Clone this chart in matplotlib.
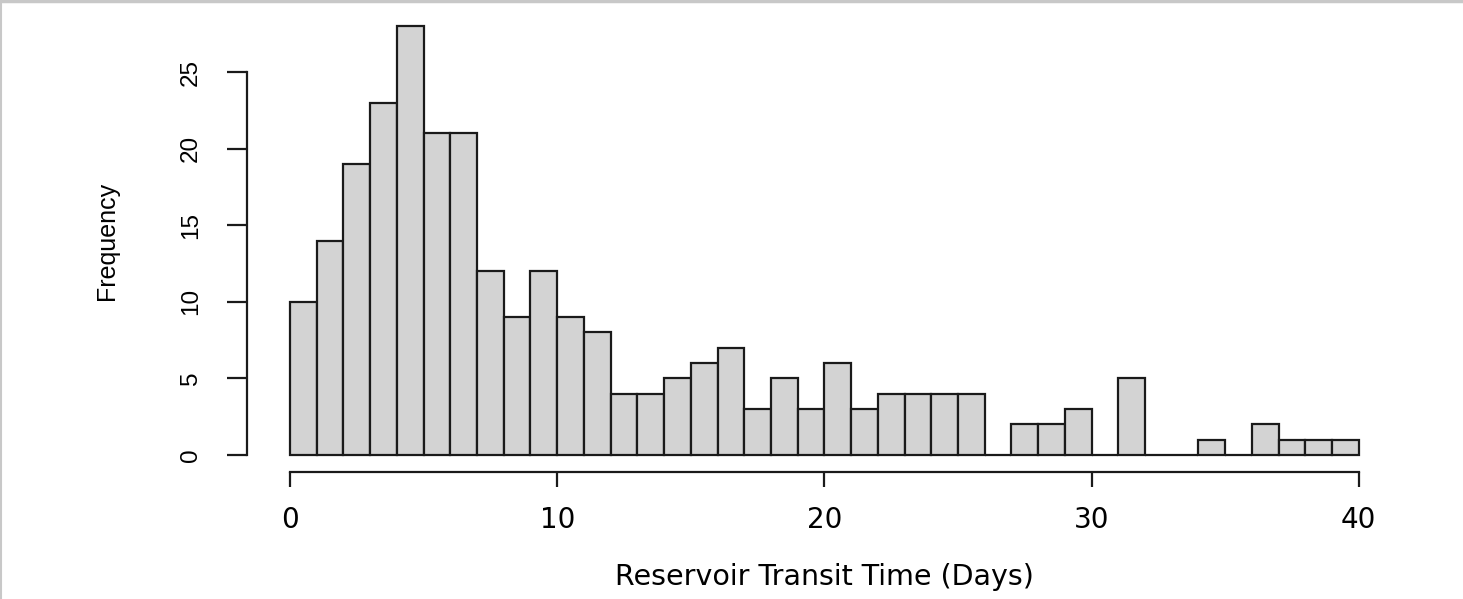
import numpy as np
import matplotlib
matplotlib.use("Agg")
import matplotlib.pyplot as plt
from matplotlib.lines import Line2D

# histogram counts, bins of width 1 day from 0 to 40
bin_edges = np.arange(0, 41, 1)
counts = [10, 14, 19, 23, 28, 21, 21, 12, 9, 12,
          9, 8, 4, 4, 5, 6, 7, 3, 5, 3,
          6, 3, 4, 4, 4, 4, 0, 2, 2, 3,
          0, 5, 0, 0, 1, 0, 2, 1, 1, 1]
x_ticks = [0, 10, 20, 30, 40]
y_ticks = [0, 5, 10, 15, 20, 25]

plt.rcParams['font.family'] = ['Liberation Sans', 'DejaVu Sans']
wide = ['DejaVu Sans']  # reference text is stretched sideways, use a wider face

fig = plt.figure(figsize=(14.63, 5.99), dpi=100)
ax = fig.add_axes([0.169, 0.2117, 0.958 - 0.169, 0.985 - 0.2117])

ax.bar(bin_edges[:-1], counts, width=1, align='edge', color='#d3d3d3',
       edgecolor='#1a1a1a', linewidth=1.6)

ax.set_xlim(-1.6, 41.6)
ax.set_ylim(-1.12, 29.12)

for s in ['top', 'right']:
    ax.spines[s].set_visible(False)
ax.spines['left'].set_bounds(0, 25)
ax.spines['bottom'].set_bounds(0, 40)
for s in ['left', 'bottom']:
    ax.spines[s].set_linewidth(1.6)
    ax.spines[s].set_color('#1a1a1a')

ax.set_xticks(x_ticks)
ax.set_yticks(y_ticks)
ax.tick_params(axis='x', length=11, width=1.6, pad=13, labelsize=20, color='#1a1a1a')
ax.tick_params(axis='y', length=14.5, width=1.6, pad=18, labelsize=17.5,
               labelrotation=90, color='#1a1a1a')
for lab in ax.get_xticklabels():
    lab.set_family(wide)
for lab in ax.get_yticklabels():
    lab.set_va('center')

ax.set_xlabel('Reservoir Transit Time (Days)', family=wide, fontsize=20.5, va='center')
ax.xaxis.set_label_coords(0.5, -0.226)
ax.set_ylabel('Frequency', fontsize=18, va='center')
ax.yaxis.set_label_coords(-0.1214, 0.5)

# light grey frame of the screenshot
fig.add_artist(Line2D([0, 1], [0.998, 0.998], transform=fig.transFigure,
                      color='#c8c8c8', linewidth=2.5))
fig.add_artist(Line2D([0.0005, 0.0005], [0, 1], transform=fig.transFigure,
                      color='#c8c8c8', linewidth=1.5))

plt.savefig('out.png', dpi=100)
